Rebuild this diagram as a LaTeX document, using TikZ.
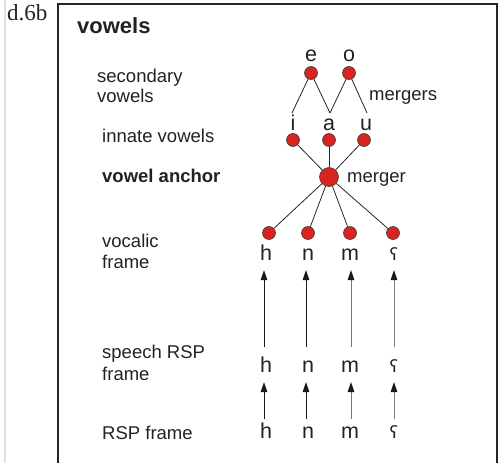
\documentclass[tikz,border=0pt]{standalone}
\usepackage{fontspec}
\setmainfont{Liberation Sans}
\newfontfamily\labserif{Liberation Serif}
\newfontfamily\ipafont{DejaVu Sans}
\usetikzlibrary{arrows.meta}
\definecolor{dotred}{HTML}{D8231E}
\definecolor{inkc}{HTML}{222222}
\begin{document}
\begin{tikzpicture}[x=1pt,y=-1pt,
  lbl/.style={anchor=base west, inner sep=0pt, font=\fontsize{18.5}{20}\selectfont, text=inkc},
  blbl/.style={lbl, font=\fontsize{18.5}{20}\selectfont\bfseries},
  ltr/.style={anchor=base, inner sep=0pt, font=\fontsize{21.5}{23}\selectfont, text=inkc},
  dot/.style={circle, inner sep=0pt, minimum size=13pt, fill=dotred, draw=black!75, line width=0.6pt},
  bigdot/.style={dot, minimum size=19pt},
  link/.style={draw=black!85, line width=0.8pt},
  arr/.style={line width=1pt, -{Triangle[length=10pt,width=6.5pt,color=black!90]}},
  ]
\useasboundingbox (0,0) rectangle (498,463);
% frames
\draw[black!12, line width=2pt] (5,0) -- (5,463);
\draw[black!85, line width=1.3pt] (58,463) -- (58,4) -- (497,4) -- (497,463);
% captions
\node[anchor=base west, inner sep=0pt, font=\labserif\fontsize{23}{25}\selectfont, text=inkc] (tag) at (7,20) {d.6b};
\node[lbl, font=\fontsize{22}{24}\selectfont\bfseries] (title) at (77,33) {vowels};
\node[lbl] (sec1) at (97,82) {secondary};
\node[lbl] (sec2) at (97,102) {vowels};
\node[lbl] (inn) at (102,142) {innate vowels};
\node[blbl] (anc) at (102,182) {vowel anchor};
\node[lbl] (voc1) at (102,247) {vocalic};
\node[lbl] (voc2) at (102,268) {frame};
\node[lbl] (sp1) at (102,358) {speech RSP};
\node[lbl] (sp2) at (102,380) {frame};
\node[lbl] (rsp) at (102,439) {RSP frame};
\node[lbl] (mgs) at (369,100) {mergers};
\node[lbl] (mg) at (347,182) {merger};
% secondary vowels
\node[ltr] (le) at (311,61) {e};
\node[ltr] (lo) at (349,61) {o};
\node[dot] (e) at (311,73) {};
\node[dot] (o) at (349,73) {};
% innate vowels
\node[ltr] (li) at (293,130) {i};
\node[ltr] (la) at (329,130) {a};
\node[ltr] (lu) at (366,130) {u};
\coordinate (ti) at (292,113);
\coordinate (ta) at (330,113);
\coordinate (tu) at (367,113);
\draw[link] (e) -- (ti);
\draw[link] (e) -- (ta);
\draw[link] (o) -- (ta);
\draw[link] (o) -- (tu);
\node[dot] (i) at (293,140) {};
\node[dot] (a) at (329,140) {};
\node[dot] (u) at (364,140) {};
% anchor
\node[bigdot] (m0) at (329,177) {};
\draw[link] (i) -- (m0);
\draw[link] (a) -- (m0);
\draw[link] (u) -- (m0);
% vocalic frame dots
\node[dot] (dh) at (269,233) {};
\node[dot] (dn) at (308,233) {};
\node[dot] (dm) at (350,233) {};
\node[dot] (dq) at (393,233) {};
\foreach \d in {dh,dn,dm,dq} \draw[link] (m0) -- (\d);
% letters rows
\foreach \r/\y in {1/260,2/372,3/438} {
  \node[ltr] (h\r) at (266,\y) {h};
  \node[ltr] (n\r) at (308,\y) {n};
  \node[ltr] (m\r) at (350,\y) {m};
  \node[ltr, font=\ipafont\fontsize{17}{19}\selectfont] (q\r) at (394,\y) {ʕ};
}
% arrows
\foreach \c/\x/\col in {h/264/black!90, n/306/black!90, m/351/black!55, q/394/black!50} {
  \coordinate (\c L0) at (\x,347);
  \coordinate (\c L1) at (\x,270);
  \coordinate (\c S0) at (\x,419);
  \coordinate (\c S1) at (\x,382);
  \draw[arr, draw=\col] (\c L0) -- (\c L1);
  \draw[arr, draw=\col] (\c S0) -- (\c S1);
}
\end{tikzpicture}
\end{document}
